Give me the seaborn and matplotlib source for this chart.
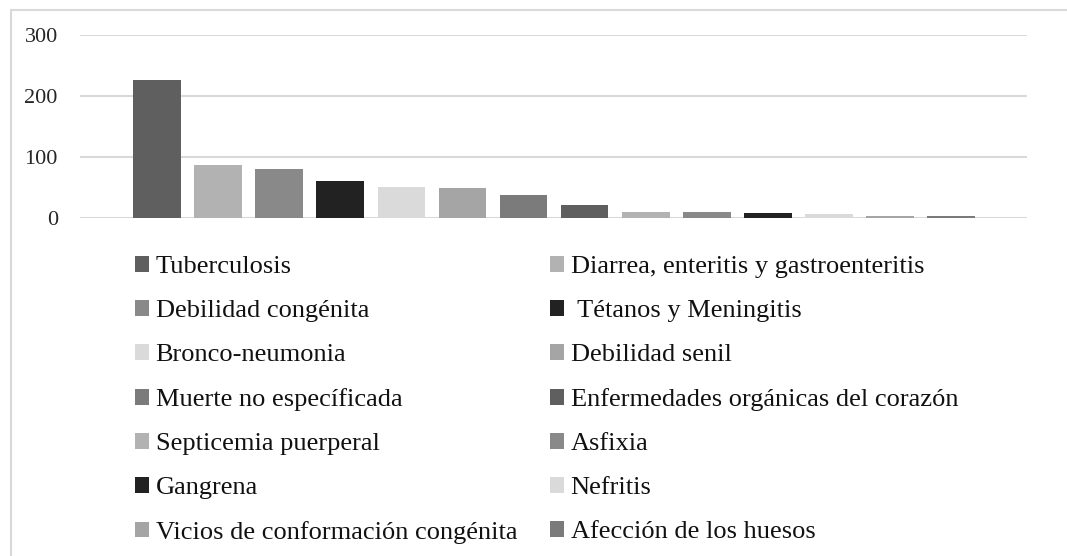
import matplotlib
matplotlib.use('Agg')
import matplotlib.pyplot as plt
import seaborn as sns
import pandas as pd
from matplotlib.patches import Patch
from matplotlib.lines import Line2D

# causas de muerte y número de defunciones
causas = [
    'Tuberculosis', 'Diarrea, enteritis y gastroenteritis',
    'Debilidad congénita', ' Tétanos y Meningitis',
    'Bronco-neumonia', 'Debilidad senil',
    'Muerte no específicada', 'Enfermedades orgánicas del corazón',
    'Septicemia puerperal', 'Asfixia',
    'Gangrena', 'Nefritis',
    'Vicios de conformación congénita', 'Afección de los huesos',
]
defunciones = [227, 87, 81, 60, 51, 49, 37, 22, 10, 10, 8, 6, 4, 4]
colores = ['#5f5f5f', '#b2b2b2', '#898989', '#222222', '#dadada', '#a5a5a5', '#7b7b7b',
           '#5f5f5f', '#b2b2b2', '#898989', '#222222', '#dadada', '#a5a5a5', '#7b7b7b']

df = pd.DataFrame({'causa': causas, 'n': defunciones})

sns.set_style('white')
plt.rcParams['font.family'] = ['Liberation Serif', 'DejaVu Serif']

fig = plt.figure(figsize=(10.67, 5.56), dpi=100)
ax = fig.add_axes([80 / 1067, 1 - 218 / 556, 947 / 1067, 183 / 556])

sns.barplot(data=df, x='causa', y='n', hue='causa', palette=colores,
            legend=False, width=0.78, linewidth=0, ax=ax)

ax.set_xlim(-1.26, 14.24)
ax.set_ylim(0, 300)
ax.set_yticks([0, 100, 200, 300])
ax.set_xticks([])
ax.set_xlabel('')
ax.set_ylabel('')
ax.yaxis.grid(True, color='#d9d9d9', linewidth=1.5)
ax.set_axisbelow(True)
for s in ax.spines.values():
    s.set_visible(False)
ax.tick_params(axis='y', length=0, pad=16, labelsize=16, labelcolor='#262626')

# leyenda en dos columnas, leída por filas
orden = list(range(0, 14, 2)) + list(range(1, 14, 2))
handles = [Patch(facecolor=colores[i], edgecolor='none') for i in orden]
labels = [causas[i] for i in orden]
fig.legend(handles, labels, ncol=2, loc='upper left',
           bbox_to_anchor=(135 / 1067, 1 - 256 / 556), frameon=False,
           fontsize=19, borderpad=0, borderaxespad=0,
           handlelength=0.53, handleheight=0.53, handletextpad=0.25,
           columnspacing=1.25, labelspacing=0.83, labelcolor='#111111')

# marco recortado de la imagen original
fig.add_artist(Line2D([11 / 1067, 11 / 1067], [0, 1 - 10 / 556], color='#d9d9d9', lw=1.5))
fig.add_artist(Line2D([11 / 1067, 1], [1 - 10 / 556, 1 - 10 / 556], color='#d9d9d9', lw=1.5))

fig.savefig('out.png', dpi=100)
